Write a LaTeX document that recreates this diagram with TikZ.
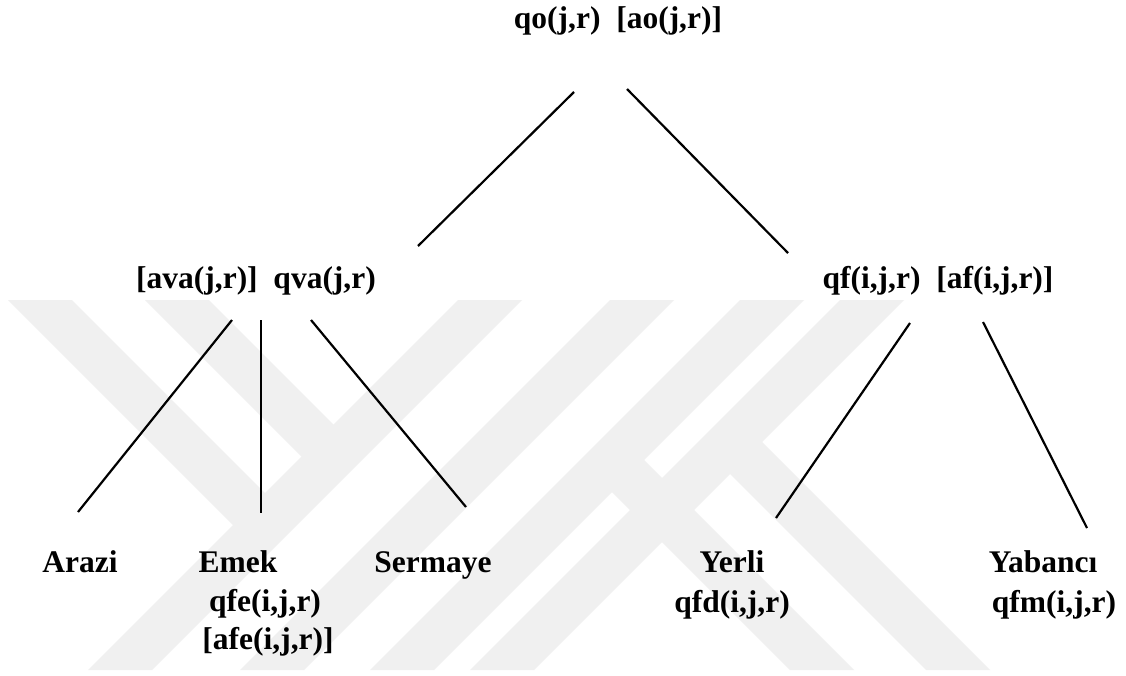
\documentclass[tikz,border=0pt]{standalone}
\usepackage{fontspec}
\setmainfont{Liberation Serif}
\begin{document}
\begin{tikzpicture}[x=1pt,y=-1pt,
  lbl/.style={anchor=base,inner sep=0pt,font=\fontsize{31.5}{38}\selectfont\bfseries},
  edge/.style={draw=black,line width=2.2pt},
  wm/.style={fill=black!6,draw=none}]
\useasboundingbox (0,0) rectangle (1126,675);
\fill[white] (0,0) rectangle (1126,675);
% faint watermark
\fill[wm] (8,300) -- (72,300) -- (281,509) -- (249,541) -- cycle;
\fill[wm] (145,300) -- (209,300) -- (349.5,440.5) -- (317.5,472.5) -- cycle;
\fill[wm] (88,670) -- (152,670) -- (522,300) -- (458,300) -- cycle;
\fill[wm] (240,670) -- (304,670) -- (674,300) -- (610,300) -- cycle;
\fill[wm] (370,670) -- (434,670) -- (804,300) -- (740,300) -- cycle;
\fill[wm] (470,670) -- (534,670) -- (904,300) -- (840,300) -- cycle;
\fill[wm] (596,476) -- (628,444) -- (854,670) -- (790,670) -- cycle;
\fill[wm] (714,458) -- (746,426) -- (990,670) -- (926,670) -- cycle;
% labels
\node[lbl] (top) at (618,28) {qo(j,r)\ \ [ao(j,r)]};
\node[lbl] (va) at (256,288) {[ava(j,r)]\ \ qva(j,r)};
\node[lbl] (qf) at (938,288) {qf(i,j,r)\ \ [af(i,j,r)]};
\node[lbl] (arazi) at (80,572) {Arazi};
\node[lbl] (emek) at (238,572) {Emek};
\node[lbl] (qfe) at (265,611) {qfe(i,j,r)};
\node[lbl] (afe) at (268,649) {[afe(i,j,r)]};
\node[lbl] (serm) at (433,572) {Sermaye};
\node[lbl] (yerli) at (732,572) {Yerli};
\node[lbl] (qfd) at (732,612) {qfd(i,j,r)};
\node[lbl] (yab) at (1043,572) {Yabancı};
\node[lbl] (qfm) at (1054,612) {qfm(i,j,r)};
% connector end points
\coordinate (t1) at (574,92);  \coordinate (m1) at (418,246);
\coordinate (t2) at (627,89);  \coordinate (m2) at (788,253);
\coordinate (a1) at (232,320); \coordinate (a2) at (78,512);
\coordinate (e1) at (261,320); \coordinate (e2) at (261,513);
\coordinate (s1) at (311,320); \coordinate (s2) at (466,507);
\coordinate (y1) at (910,323); \coordinate (y2) at (776,518);
\coordinate (b1) at (983,322); \coordinate (b2) at (1087,528);
\draw[edge] (t1) -- (m1);
\draw[edge] (t2) -- (m2);
\draw[edge] (a1) -- (a2);
\draw[edge] (e1) -- (e2);
\draw[edge] (s1) -- (s2);
\draw[edge] (y1) -- (y2);
\draw[edge] (b1) -- (b2);
\end{tikzpicture}
\end{document}
